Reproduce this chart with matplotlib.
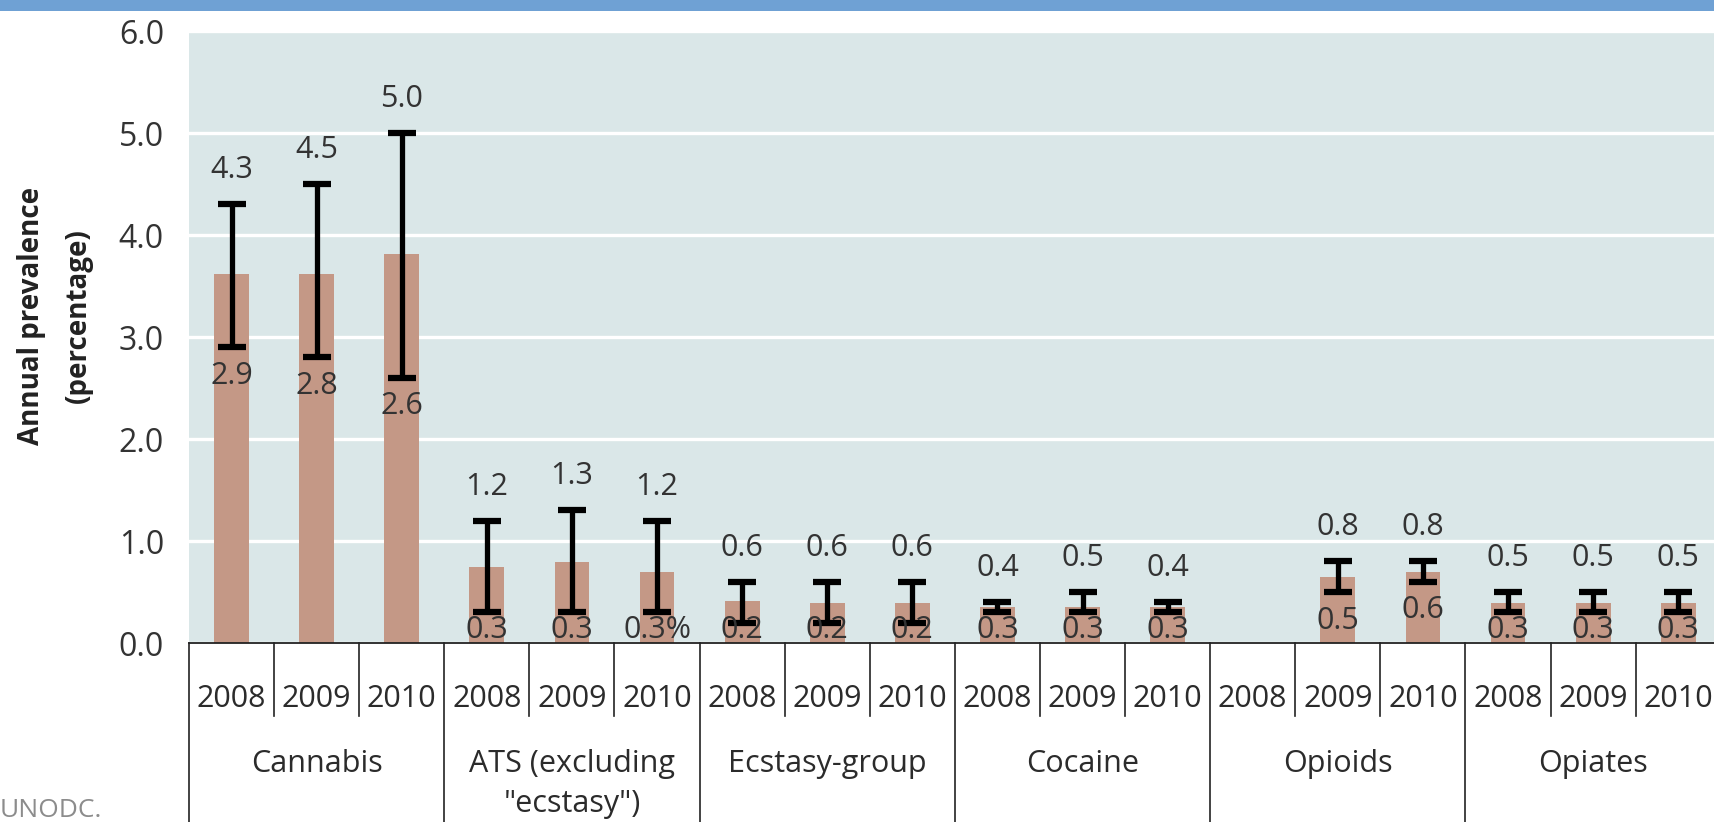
import numpy as np
import matplotlib.pyplot as plt
from matplotlib.patches import Rectangle

plt.rcParams['font.family'] = ['Open Sans', 'DejaVu Sans']

drugs = ['Cannabis', 'ATS (excluding\n"ecstasy")', 'Ecstasy-group', 'Cocaine', 'Opioids', 'Opiates']
years = ['2008', '2009', '2010']
nan = np.nan
# best estimate, lower and upper bound per drug/year (Opioids 2008 has no data)
prevalence = [3.62, 3.62, 3.81, 0.75, 0.79, 0.70, 0.41, 0.39, 0.39,
              0.35, 0.35, 0.35, nan, 0.65, 0.70, 0.39, 0.39, 0.39]
lower = [2.9, 2.8, 2.6, 0.3, 0.3, 0.3, 0.2, 0.2, 0.2,
         0.3, 0.3, 0.3, nan, 0.5, 0.6, 0.3, 0.3, 0.3]
upper = [4.3, 4.5, 5.0, 1.2, 1.3, 1.2, 0.6, 0.6, 0.6,
         0.4, 0.5, 0.4, nan, 0.8, 0.8, 0.5, 0.5, 0.5]

prevalence = np.array(prevalence)
lower = np.array(lower)
upper = np.array(upper)
x = np.arange(len(prevalence))

W, H = 1715, 822
fig = plt.figure(figsize=(W / 100, H / 100), dpi=100)
fig.add_artist(Rectangle((0, 1 - 11 / H), 1, 11 / H, transform=fig.transFigure,
                         color='#6fa1d4', lw=0))

x0, y0, ytop = 189, 643, 31
slot = 85.1
ax = fig.add_axes([x0 / W, (H - y0) / H, (W - x0) / W, (y0 - ytop) / H])
ax.set_facecolor('#dae7e8')
ax.set_ylim(0, 6)
ax.set_xlim(-0.5, -0.5 + (W - x0) / slot)

def below(px):
    # pixel row in the figure -> axes fraction
    return -(px - y0) / (y0 - ytop)

ax.bar(x, prevalence, width=0.41, color='#c49886', zorder=2)
ax.errorbar(x, prevalence, yerr=[prevalence - lower, upper - prevalence], fmt='none',
            ecolor='black', elinewidth=3.8, capsize=10, capthick=4.5, zorder=3)

lo_labels = [f'{v:.1f}' for v in lower]
lo_labels[5] += '%'
for i in x:
    if np.isnan(upper[i]):
        continue
    ax.annotate(f'{upper[i]:.1f}', (i, upper[i]), xytext=(0, 34), textcoords='offset pixels',
                ha='center', va='center', fontsize=22, color='#333333', zorder=4)
    # lower bound sits under its cap but stays inside the bar near the baseline
    ax.text(i, max(lower[i] - 0.28, 0.13), lo_labels[i], ha='center', va='center',
            fontsize=22, color='#333333', zorder=4)

ax.set_yticks(np.arange(0, 7, 1))
ax.set_yticklabels([f'{v:.1f}' for v in np.arange(0, 7, 1)])
ax.tick_params(axis='y', length=0, pad=18, labelsize=23, labelcolor='#333333')
ax.set_xticks([])
ax.yaxis.grid(True, color='white', lw=2.4)
ax.set_axisbelow(True)
for s in ['top', 'right', 'left']:
    ax.spines[s].set_visible(False)
ax.spines['bottom'].set_color('#222222')
ax.spines['bottom'].set_linewidth(1.3)

fig.text(55 / W, (H - 316) / H, 'Annual prevalence\n(percentage)', rotation=90,
         ha='center', va='center', fontsize=20, fontweight='bold', color='#222222',
         linespacing=1.8)

# category table under the axis
tr = ax.get_xaxis_transform()
for b in range(len(x) + 1):
    xb = b - 0.5
    yb = below(830) if b % 3 == 0 else below(716)
    ax.plot([xb, xb], [0, yb], transform=tr, clip_on=False, color='#222222', lw=1.2)
for i in x:
    ax.text(i, below(684), years[i % 3], transform=tr, ha='center', va='top',
            fontsize=22, color='#2b2b2b')
for g, name in enumerate(drugs):
    ax.text(3 * g + 1, below(749), name, transform=tr, ha='center', va='top',
            fontsize=22, color='#2b2b2b', linespacing=1.45)

fig.text(0, (H - 817) / H, 'UNODC.', ha='left', va='baseline', fontsize=19, color='#8c8c8c')

fig.savefig('out.png', dpi=100)
